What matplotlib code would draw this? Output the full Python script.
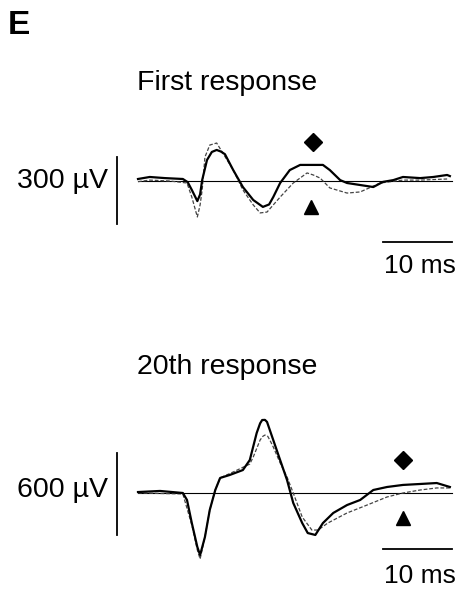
import numpy as np
import matplotlib
matplotlib.use("Agg")
import matplotlib.pyplot as plt

plt.rcParams['font.family'] = ['Liberation Sans', 'DejaVu Sans']

# first response, time (ms) and field potential (uV)
t1_solid = [0, 1.7, 3.9, 6.5, 7.2, 7.8, 8.6, 9.0, 9.3, 10.0, 10.7, 11.4, 12.0, 12.6, 13.8, 15.2, 16.7,
            18.1, 19.0, 19.6, 20.6, 22.0, 23.5, 25.4, 26.8, 27.8, 29.3, 30.3, 32.2, 34.1,
            35.5, 37.0, 38.4, 40.9, 42.8, 44.8, 45.2]
v1_solid = [9, 18, 13, 9, -5, -40, -90, -60, 4, 94, 130, 139, 132, 120, 49, -27, -85,
            -116, -105, -72, -9, 49, 72, 72, 72, 49, 4, -9, -18, -27,
            -4, 4, 18, 13, 18, 27, 22]
t1_dash = [0, 1.7, 4.6, 7.1, 7.8, 8.6, 9.0, 9.3, 9.7, 10.4, 11.4, 12.3, 13.8, 15.2,
           16.7, 17.7, 18.7, 20.6, 22.5, 24.5, 25.4, 26.4, 27.8, 30.3, 32.2, 35.1,
           38.4, 40.9, 44.8]
v1_dash = [-3, 4, 0, -9, -72, -161, -107, -40, 107, 161, 170, 125, 49, -40,
           -107, -143, -139, -72, -9, 36, 27, 13, -31, -54, -49, -9,
           4, 4, 9]

# 20th response
t20_solid = [0, 3.2, 6.5, 7.1, 7.8, 8.6, 9.0, 9.7, 10.4, 11.2, 11.9, 13.3, 15.2, 16.2,
             17.2, 17.7, 18.0, 18.4, 18.7, 19.6, 20.6, 21.6, 22.5, 23.8, 24.6, 25.7, 26.8, 28.3,
             30.3, 32.2, 34.1, 36.1, 38.4, 40.9, 43.3, 45.2]
v20_solid = [7, 15, 0, -51, -220, -395, -454, -322, -124, 22, 110, 132, 168, 241,
             439, 510, 534, 535, 520, 388, 241, 95, -73, -220, -293, -307, -220, -146,
             -88, -51, 22, 44, 59, 66, 73, 44]
t20_dash = [0, 6.5, 7.8, 8.6, 9.0, 9.7, 10.4, 11.2, 11.9, 13.8, 16.2, 16.7, 17.7, 18.1, 18.4,
            18.8, 19.1, 19.6, 20.6, 21.6, 22.5, 23.8, 25.2, 26.1, 27.5, 30.3, 33.2, 36.1,
            38.4, 40.9, 43.3, 45.2]
v20_dash = [0, -7, -234, -417, -483, -322, -124, 22, 110, 154, 212, 263, 388, 415, 424,
            415, 388, 337, 220, 117, 0, -176, -271, -271, -220, -146, -88, -29,
            0, 22, 37, 37]

titles = ["First response", "20th response"]
amp_labels = ["300 µV", "600 µV"]
amp_bars = [300, 600]
time_bar = 10

W, H = 458, 590


def add_panel(top, bottom, base_y, px_per_uv):
    # axes spanning the full width, scaled so that 6.9 px = 1 ms
    px_per_ms = 6.9
    ax = fig.add_axes([0, 1 - bottom / H, 1, (bottom - top) / H])
    ax.set_xlim((0 - 138) / px_per_ms, (W - 138) / px_per_ms)
    ax.set_ylim((base_y - bottom) / px_per_uv, (base_y - top) / px_per_uv)
    ax.axis("off")
    return ax


fig = plt.figure(figsize=(W / 100, H / 100), dpi=100)

panels = [
    dict(top=100, bottom=300, base_y=181, k=67 / 300, t_s=t1_solid, v_s=v1_solid,
         t_d=t1_dash, v_d=v1_dash, bar_lo=-193, hbar_y=-273, dia=(25.4, 175), tri=(25.1, -117),
         label_y=181, title_y=83, ms_y=266),
    dict(top=390, bottom=590, base_y=493, k=82 / 600, t_s=t20_solid, v_s=v20_solid,
         t_d=t20_dash, v_d=v20_dash, bar_lo=-307, hbar_y=-410, dia=(38.4, 241), tri=(38.4, -183),
         label_y=490, title_y=367, ms_y=576),
]

for i, p in enumerate(panels):
    ax = add_panel(p["top"], p["bottom"], p["base_y"], p["k"])
    ax.plot([0, 45.5], [0, 0], color="black", lw=0.8)
    ax.plot(p["t_d"], p["v_d"], color="#444444", lw=0.9, ls=(0, (3, 1.5)))
    ax.plot(p["t_s"], p["v_s"], color="black", lw=1.6)
    # amplitude scale bar
    ax.plot([-3.04, -3.04], [p["bar_lo"], p["bar_lo"] + amp_bars[i]], color="black", lw=1.3)
    # time scale bar
    ax.plot([35.5, 35.5 + time_bar], [p["hbar_y"], p["hbar_y"]], color="black", lw=1.3)
    ax.plot(*p["dia"], marker="D", color="black", ms=9)
    ax.plot(*p["tri"], marker="^", color="black", ms=10)

    fig.text(108 / W, 1 - p["label_y"] / H, amp_labels[i], ha="right", va="center", fontsize=20.5)
    fig.text(137 / W, 1 - p["title_y"] / H, titles[i], ha="left", va="center", fontsize=20.5)
    fig.text(384 / W, 1 - p["ms_y"] / H, "10 ms", ha="left", va="center", fontsize=19)

fig.text(8 / W, 1 - 25 / H, "E", ha="left", va="center", fontsize=24, fontweight="bold")

fig.savefig("out.png", dpi=100, facecolor="white")
